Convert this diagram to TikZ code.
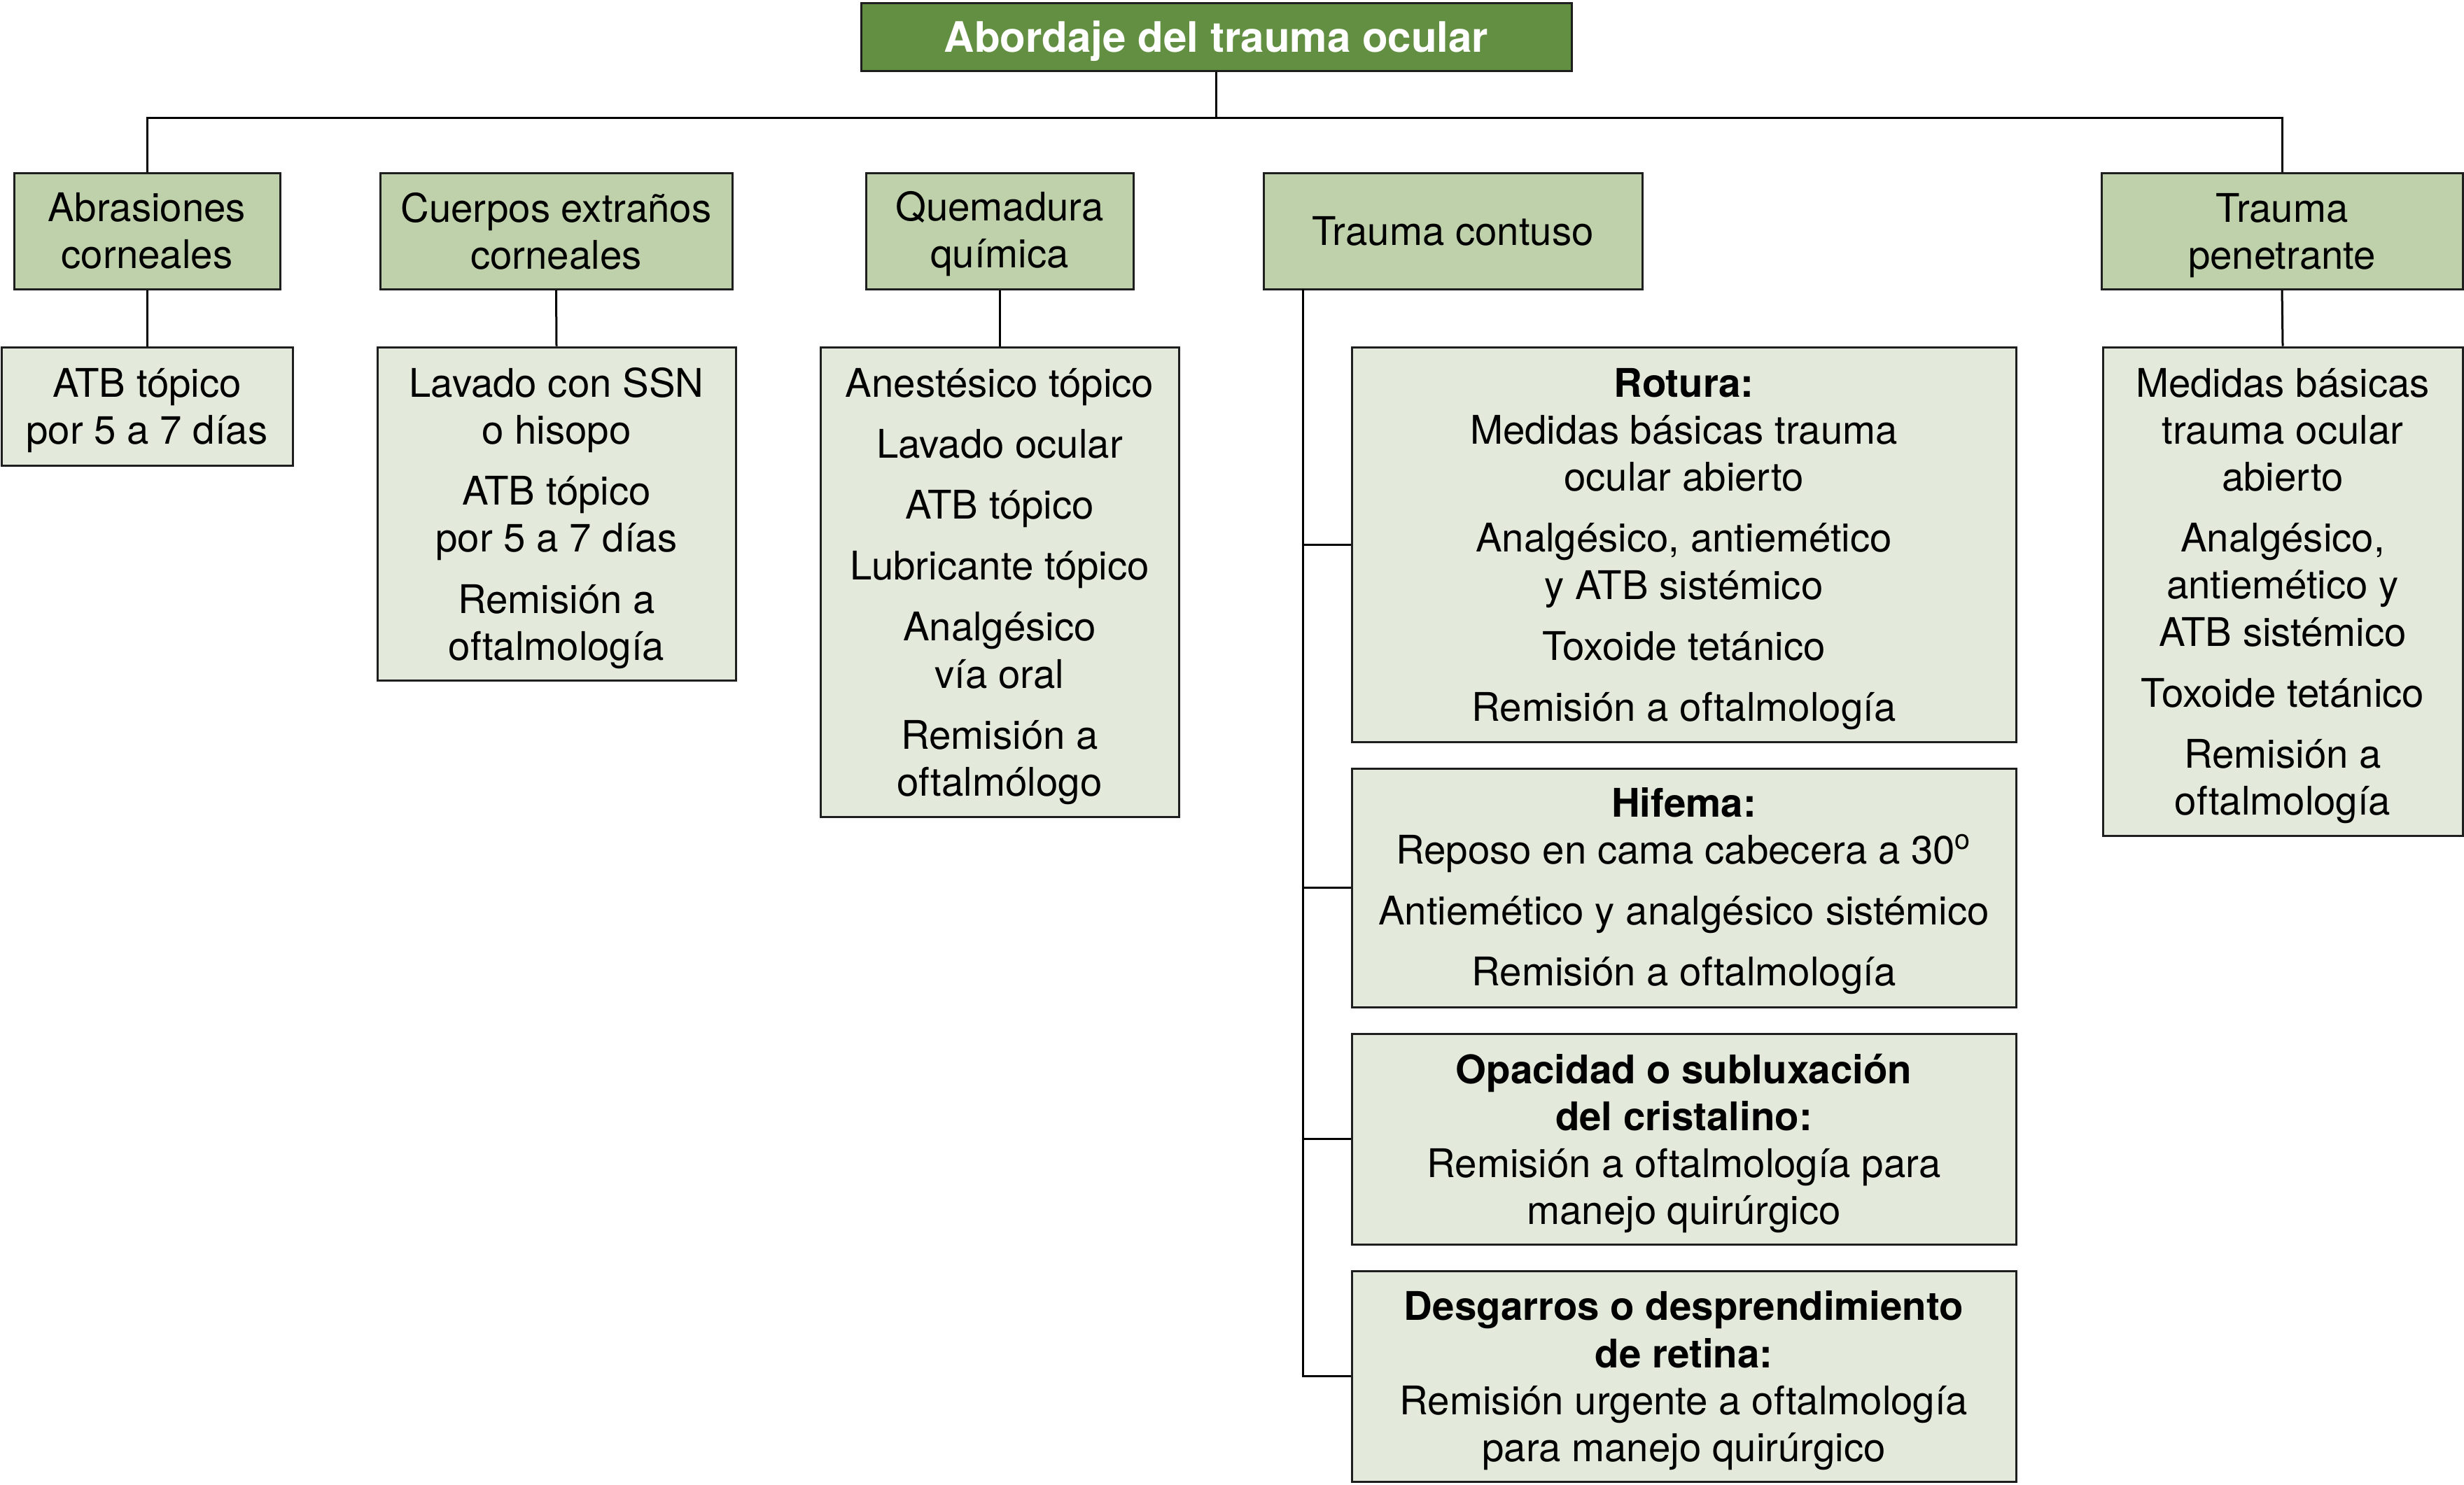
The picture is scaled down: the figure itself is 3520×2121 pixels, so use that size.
\documentclass[tikz,border=0pt]{standalone}
\usepackage{fontspec}
\setmainfont{TeX Gyre Heros}
\definecolor{topgreen}{RGB}{99,143,67}
\definecolor{midgreen}{RGB}{191,209,170}
\definecolor{lightgreen}{RGB}{227,234,219}
\definecolor{edge}{RGB}{30,30,30}
\begin{document}
\begin{tikzpicture}[x=0.25pt,y=-0.25pt,
  boxbase/.style={draw=edge, line width=0.75pt, inner sep=0pt},
  titlebox/.style={boxbase, fill=topgreen},
  catbox/.style={boxbase, fill=midgreen},
  infobox/.style={boxbase, fill=lightgreen},
  txt/.style={inner sep=0pt, align=center, font=\fontsize{14.1}{16.8}\selectfont},
  titletxt/.style={inner sep=0pt, text=white, font=\fontsize{15}{18}\selectfont\bfseries},
  link/.style={draw=black, line width=0.75pt}
]
\useasboundingbox (0,0) rectangle (3520,2121);

% boxes
\node[titlebox, minimum width=1015*0.25pt, minimum height=97*0.25pt] (top) at (1737.5,52.5) {};

\node[catbox, minimum width=380*0.25pt, minimum height=166*0.25pt] (abr) at (210,330) {};
\node[catbox, minimum width=503*0.25pt, minimum height=166*0.25pt] (cue) at (794.5,330) {};
\node[catbox, minimum width=382*0.25pt, minimum height=166*0.25pt] (que) at (1428,330) {};
\node[catbox, minimum width=541*0.25pt, minimum height=166*0.25pt] (con) at (2075.5,330) {};
\node[catbox, minimum width=516*0.25pt, minimum height=166*0.25pt] (pen) at (3260,330) {};

\node[infobox, minimum width=416*0.25pt, minimum height=169*0.25pt] (atb) at (210,580.5) {};
\node[infobox, minimum width=512*0.25pt, minimum height=476*0.25pt] (lav) at (795,734) {};
\node[infobox, minimum width=512*0.25pt, minimum height=671*0.25pt] (qc) at (1428,831.5) {};
\node[infobox, minimum width=949*0.25pt, minimum height=564*0.25pt] (rot) at (2405.5,778) {};
\node[infobox, minimum width=949*0.25pt, minimum height=341*0.25pt] (hif) at (2405.5,1268.5) {};
\node[infobox, minimum width=949*0.25pt, minimum height=301*0.25pt] (opa) at (2405.5,1627.5) {};
\node[infobox, minimum width=949*0.25pt, minimum height=301*0.25pt] (des) at (2405.5,1966.5) {};
\node[infobox, minimum width=514*0.25pt, minimum height=698*0.25pt] (pc) at (3261,845) {};

% texts
\node[titletxt, yshift=-1.6pt] (top-t) at (top.center) {Abordaje del trauma ocular};

\node[txt] (abr-t) at (abr.center) {Abrasiones\\corneales};
\node[txt] (cue-t) at (cue.center) {Cuerpos extraños\\corneales};
\node[txt, yshift=-1.1pt] (que-t) at (que.center) {Quemadura\\química};
\node[txt] (con-t) at (con.center) {Trauma contuso};
\node[txt, yshift=-1.6pt] (pen-t) at (pen.center) {Trauma\\penetrante};

\node[txt, yshift=-1.6pt] (atb-t) at (atb.center) {ATB tópico\\por 5 a 7 días};
\node[txt, yshift=-1.6pt] (lav-t) at (lav.center) {Lavado con SSN\\o hisopo\\[5pt]ATB tópico\\por 5 a 7 días\\[5pt]Remisión a\\oftalmología};
\node[txt, yshift=-1.6pt] (qc-t) at (qc.center) {Anestésico tópico\\[5pt]Lavado ocular\\[5pt]ATB tópico\\[5pt]Lubricante tópico\\[5pt]Analgésico\\vía oral\\[5pt]Remisión a\\oftalmólogo};
\node[txt, yshift=-1.6pt] (rot-t) at (rot.center) {\textbf{Rotura:}\\Medidas básicas trauma\\ocular abierto\\[5pt]Analgésico, antiemético\\y ATB sistémico\\[5pt]Toxoide tetánico\\[5pt]Remisión a oftalmología};
\node[txt, yshift=-1.2pt] (hif-t) at (hif.center) {\textbf{Hifema:}\\Reposo en cama cabecera a 30\textsuperscript{o}\\[5pt]Antiemético y analgésico sistémico\\[5pt]Remisión a oftalmología};
\node[txt, yshift=-1.6pt] (opa-t) at (opa.center) {\textbf{Opacidad o subluxación}\\\textbf{del cristalino:}\\Remisión a oftalmología para\\manejo quirúrgico};
\node[txt, yshift=-1.6pt] (des-t) at (des.center) {\textbf{Desgarros o desprendimiento}\\\textbf{de retina:}\\Remisión urgente a oftalmología\\para manejo quirúrgico};
\node[txt, yshift=-1.6pt] (pc-t) at (pc.center) {Medidas básicas\\trauma ocular\\abierto\\[5pt]Analgésico,\\antiemético y\\ATB sistémico\\[5pt]Toxoide tetánico\\[5pt]Remisión a\\oftalmología};

% bus
\coordinate (bus) at (1737.5,168);
\draw[link] (top.south) -- (bus);
\draw[link] (abr.north) |- (bus) -| (pen.north);

% vertical links
\draw[link] (abr.south) -- (atb.north);
\draw[link] (cue.south) -- (lav.north);
\draw[link] (que.south) -- (qc.north);
\draw[link] (pen.south) -- (pc.north);

% contuso spine
\coordinate (sp) at (1861,413);
\draw[link] (sp) |- (des.west);
\draw[link] (sp |- rot.west) -- (rot.west);
\draw[link] (sp |- hif.west) -- (hif.west);
\draw[link] (sp |- opa.west) -- (opa.west);
\end{tikzpicture}
\end{document}
